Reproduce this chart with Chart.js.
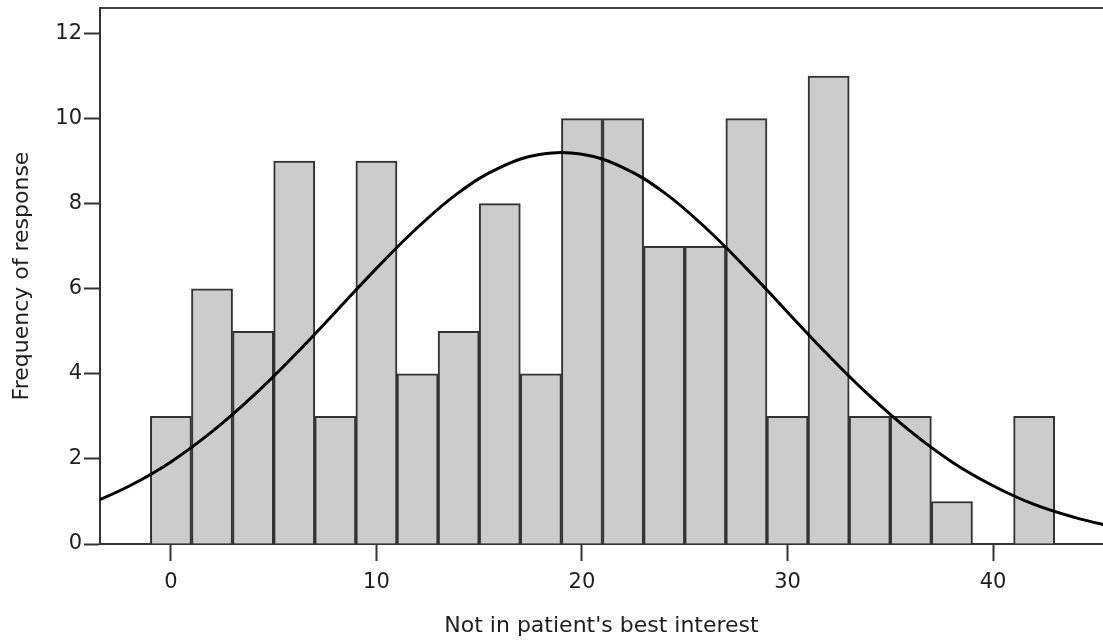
<!DOCTYPE html>
<html>
<head>
<meta charset="utf-8">
<title>Not in patient's best interest</title>
<script src="https://cdn.jsdelivr.net/npm/chart.js@4.4.0/dist/chart.umd.min.js"></script>
<style>
  html, body { margin: 0; padding: 0; background: #fff; }
  #wrap { width: 1103px; height: 644px; }
</style>
</head>
<body>
<div id="wrap"><canvas id="histChart" width="1103" height="644"></canvas></div>
<script>
// bin centres (width 2) and counts per bin
const binCenters = [0, 2, 4, 6, 8, 10, 12, 14, 16, 18, 20, 22, 24, 26, 28, 30, 32, 34, 36, 38, 40, 42];
const binCounts  = [3, 6, 5, 9, 3, 9, 4, 5, 8, 4, 10, 10, 7, 7, 10, 3, 11, 3, 3, 1, 0, 3];

// fitted normal curve, read every 2 units
const curveX = [-4, -2, 0, 2, 4, 6, 8, 10, 12, 14, 16, 18, 20, 22, 24, 26, 28, 30, 32, 34, 36, 38, 40, 42, 44, 46];
const curveY = [0.93, 1.37, 1.93, 2.64, 3.48, 4.43, 5.45, 6.48, 7.44, 8.26, 8.85, 9.16, 9.16, 8.85, 8.26, 7.44, 6.48, 5.45, 4.43, 3.48, 2.64, 1.93, 1.37, 0.93, 0.62, 0.39];

const yTicks = [0, 2, 4, 6, 8, 10, 12];
const xTicks = [0, 10, 20, 30, 40];

const axisColor = '#333333';
const textColor = '#1e1e1e';
const tickFont = { family: 'DejaVu Sans', size: 21 };
const titleFont = { family: 'DejaVu Sans', size: 22, lineHeight: 1.2 };

new Chart(document.getElementById('histChart'), {
    type: 'bar',
    data: {
        datasets: [{
            type: 'line',
            label: 'Normal',
            data: curveX.map((x, i) => ({ x: x, y: curveY[i] })),
            borderColor: '#000000',
            borderWidth: 3,
            pointRadius: 0,
            tension: 0.4,
            fill: false
        }, {
            type: 'bar',
            label: 'Frequency',
            data: binCenters.map((x, i) => ({ x: x, y: binCounts[i] })),
            backgroundColor: '#cccccc',
            borderColor: '#333333',
            borderWidth: 2,
            barPercentage: 1,
            categoryPercentage: 1
        }]
    },
    options: {
        responsive: false,
        animation: false,
        layout: { padding: { top: 8, right: 0, bottom: 0, left: 0 } },
        plugins: { legend: { display: false }, tooltip: { enabled: false } },
        scales: {
            x: {
                type: 'linear',
                position: 'bottom',
                min: -3.45,
                max: 45.35,
                offset: false,
                afterBuildTicks: s => { s.ticks = xTicks.map(v => ({ value: v })); },
                afterFit: s => { s.height = 100; s.paddingLeft = 0; s.paddingRight = 0; },
                ticks: { color: textColor, font: tickFont, padding: 9, maxRotation: 0, autoSkip: false },
                grid: { offset: false, drawOnChartArea: false, drawTicks: true, tickLength: 17, tickColor: axisColor, tickWidth: 2 },
                border: { display: true, color: axisColor, width: 2 },
                title: { display: true, text: "Not in patient's best interest", color: textColor, font: titleFont, padding: { top: 0, bottom: 5 } }
            },
            x2: {
                type: 'linear',
                position: 'top',
                min: -3.45,
                max: 45.35,
                offset: false,
                afterFit: s => { s.height = 0; },
                ticks: { display: false },
                grid: { display: false, drawTicks: false },
                border: { display: true, color: '#444444', width: 2 }
            },
            y: {
                min: 0,
                max: 12.6,
                afterBuildTicks: s => { s.ticks = yTicks.map(v => ({ value: v })); },
                afterFit: s => { s.width = 100; s.paddingTop = 0; s.paddingBottom = 0; },
                ticks: { color: textColor, font: tickFont, padding: 2 },
                grid: { drawOnChartArea: false, drawTicks: true, tickLength: 16, tickColor: axisColor, tickWidth: 2 },
                border: { display: true, color: axisColor, width: 2 },
                title: { display: true, text: 'Frequency of response', color: textColor, font: titleFont, padding: { top: 9, bottom: 0 } }
            }
        }
    }
});
</script>
</body>
</html>
